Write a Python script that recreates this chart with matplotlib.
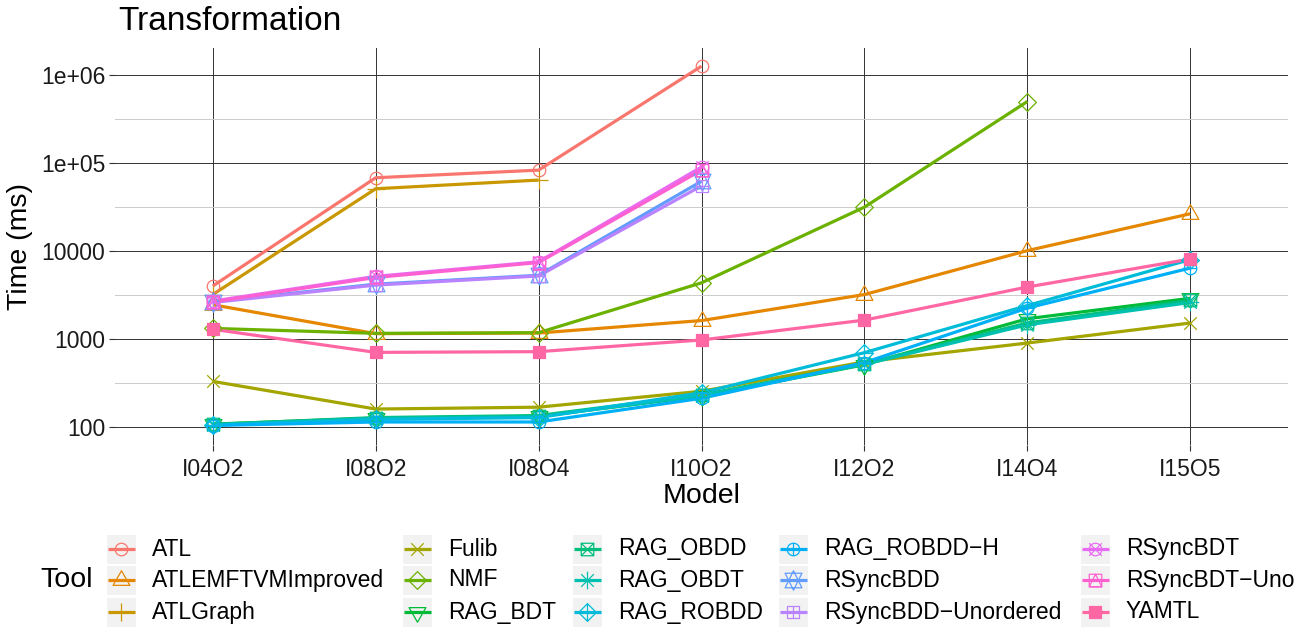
import numpy as np
import matplotlib
matplotlib.use("Agg")
import matplotlib.pyplot as plt
from matplotlib.path import Path
from matplotlib.patches import Rectangle
from matplotlib.ticker import FixedLocator, FixedFormatter, NullFormatter

plt.rcParams['font.family'] = ['Liberation Sans', 'DejaVu Sans']

nan = np.nan
models = ['I04O2', 'I08O2', 'I08O4', 'I10O2', 'I12O2', 'I14O4', 'I15O5']

tools = ['ATL', 'ATLEMFTVMImproved', 'ATLGraph', 'Fulib', 'NMF', 'RAG_BDT',
         'RAG_OBDD', 'RAG_OBDT', 'RAG_ROBDD', 'RAG_ROBDD\u2212H', 'RSyncBDD',
         'RSyncBDD\u2212Unordered', 'RSyncBDT', 'RSyncBDT\u2212Uno', 'YAMTL']

# time in ms, one list per tool (nan = not measured)
atl = [4000, 68000, 83000, 1260000, nan, nan, nan]
atl_emftvm = [2450, 1150, 1170, 1620, 3200, 10100, 26500]
atl_graph = [3200, 51000, 64000, nan, nan, nan, nan]
fulib = [330, 160, 168, 255, 550, 900, 1520]
nmf = [1320, 1160, 1180, 4350, 31500, 500000, nan]
rag_bdt = [108, 126, 132, 225, 510, 1700, 2900]
rag_obdd = [107, 128, 135, 232, 520, 1520, 2750]
rag_obdt = [106, 125, 131, 228, 515, 1450, 2600]
rag_robdd = [105, 122, 128, 245, 700, 2400, 8000]
rag_robdd_h = [104, 114, 114, 212, 540, 2250, 6400]
rsync_bdd = [2650, 4200, 5300, 62000, nan, nan, nan]
rsync_bdd_unord = [2600, 4100, 5200, 55000, nan, nan, nan]
rsync_bdt = [2700, 5150, 7550, 90000, nan, nan, nan]
rsync_bdt_uno = [2650, 5000, 7400, 83000, nan, nan, nan]
yamtl = [1290, 705, 718, 975, 1640, 3900, 8100]

series = [atl, atl_emftvm, atl_graph, fulib, nmf, rag_bdt, rag_obdd, rag_obdt,
          rag_robdd, rag_robdd_h, rsync_bdd, rsync_bdd_unord, rsync_bdt,
          rsync_bdt_uno, yamtl]

colors = ["#F8766D", "#E58700", "#C99800", "#A3A500", "#6BB100", "#00BA38",
          "#00BF7D", "#00C0AF", "#00BCD8", "#00B0F6", "#619CFF", "#B983FF",
          "#E76BF3", "#FD61D1", "#FF67A4"]


# R pch shapes 1..15 as paths (unit = symbol radius)
def seg(a, b):
    return Path([a, b], [Path.MOVETO, Path.LINETO])


def poly(pts):
    return Path(list(pts) + [pts[0]],
                [Path.MOVETO] + [Path.LINETO] * (len(pts) - 1) + [Path.CLOSEPOLY])


def compound(*ps):
    return Path.make_compound_path(*ps)


s2 = np.sqrt(2)
circ = Path.unit_circle()
sq = poly([(-1, -1), (1, -1), (1, 1), (-1, 1)])
cross = compound(seg((-1, -1), (1, 1)), seg((-1, 1), (1, -1)))
plus1 = compound(seg((-1, 0), (1, 0)), seg((0, -1), (0, 1)))
plus2 = compound(seg((-s2, 0), (s2, 0)), seg((0, -s2), (0, s2)))
diam = poly([(0, s2), (s2, 0), (0, -s2), (-s2, 0)])
tri_up = poly([(0, 1.555), (1.347, -0.778), (-1.347, -0.778)])
tri_dn = poly([(0, -1.555), (1.347, 0.778), (-1.347, 0.778)])
star = compound(poly([(0, -1.555), (1.347, 1.166), (-1.347, 1.166)]),
                poly([(0, 1.555), (1.347, -1.166), (-1.347, -1.166)]))

shapes = [
    (circ, 1.0), (tri_up, 1.555), (plus2, s2), (cross, 1.0), (diam, s2),
    (tri_dn, 1.555), (compound(sq, cross), 1.0), (compound(cross, plus2), s2),
    (compound(diam, plus2), s2), (compound(circ, plus1), 1.0), (star, 1.555),
    (compound(sq, plus1), 1.0), (compound(circ, cross), 1.0),
    (compound(sq, poly([(-1, -1), (0, 1), (1, -1)])), 1.0), (sq, 1.0),
]
R_PT = 4.5
LW = 2.3
MEW = 0.9

W, H = 1315, 628
fig = plt.figure(figsize=(W / 100, H / 100), dpi=100)
ax = fig.add_axes([115 / W, (H - 445) / H, 1173 / W, 397 / H])

x = np.arange(len(models))
for i, (vals, col) in enumerate(zip(series, colors)):
    ax.plot(x, vals, color=col, lw=LW, zorder=2 + i * 0.01, solid_capstyle='butt')
for i, (vals, col) in enumerate(zip(series, colors)):
    path, ext = shapes[i]
    fc = col if i == 14 else 'none'
    ax.plot(x, vals, ls='none', marker=path, ms=2 * R_PT * ext, mfc=fc,
            mec=col, mew=MEW, zorder=3 + i * 0.01)

ax.set_yscale('log')
ax.set_ylim(10 ** 1.7955, 10 ** 6.307)
ax.set_xlim(-0.6, len(models) - 0.4)
ax.yaxis.set_major_locator(FixedLocator([1e2, 1e3, 1e4, 1e5, 1e6]))
ax.yaxis.set_major_formatter(FixedFormatter(['100', '1000', '10000', '1e+05', '1e+06']))
ax.yaxis.set_minor_locator(FixedLocator([10 ** (k + 0.5) for k in range(1, 7)]))
ax.yaxis.set_minor_formatter(NullFormatter())
ax.set_xticks(x)
ax.set_xticklabels(models)

for s in ax.spines.values():
    s.set_visible(False)
ax.grid(True, which='major', color='#333333', lw=0.7, zorder=0)
ax.grid(True, which='minor', axis='y', color='#cccccc', lw=0.7, zorder=0)
ax.set_axisbelow(True)
ax.tick_params(which='major', length=4, width=0.8, color='#333333',
               labelsize=16.5, labelcolor='#1a1a1a', pad=3)
ax.tick_params(which='minor', length=0)
ax.tick_params(axis='x', pad=5)

ax.set_xlabel('Model', fontsize=20.5, labelpad=2)
ax.set_ylabel('Time (ms)', fontsize=20.5, labelpad=6)
fig.text(118 / W, 1 - 22 / H, 'Transformation', fontsize=24, va='center', ha='left')

# legend (ggplot style, drawn in pixel coordinates)
lax = fig.add_axes([0, 0, 1, 1], zorder=-1)
lax.set_xlim(0, W)
lax.set_ylim(H, 0)
lax.axis('off')
lax.text(40, 580, 'Tool', fontsize=20.5, va='center', ha='left')
key_x = [107, 403, 573, 779, 1081]
row_y = [549, 580, 612]
kw, kh = 29, 29
for i, name in enumerate(tools):
    c, r = divmod(i, 3)
    kx, ky = key_x[c], row_y[r]
    lax.add_patch(Rectangle((kx, ky - kh / 2), kw, kh, color='#f2f2f2', lw=0))
    lax.plot([kx + 1, kx + kw - 1], [ky, ky], color=colors[i], lw=LW, solid_capstyle='butt')
    path, ext = shapes[i]
    fc = colors[i] if i == 14 else 'none'
    lax.plot([kx + kw / 2], [ky], ls='none', marker=path, ms=2 * R_PT * ext,
             mfc=fc, mec=colors[i], mew=MEW)
    lax.text(kx + kw + 16, ky, name, fontsize=16.5, va='center', ha='left')

fig.savefig('out.png', dpi=100)
